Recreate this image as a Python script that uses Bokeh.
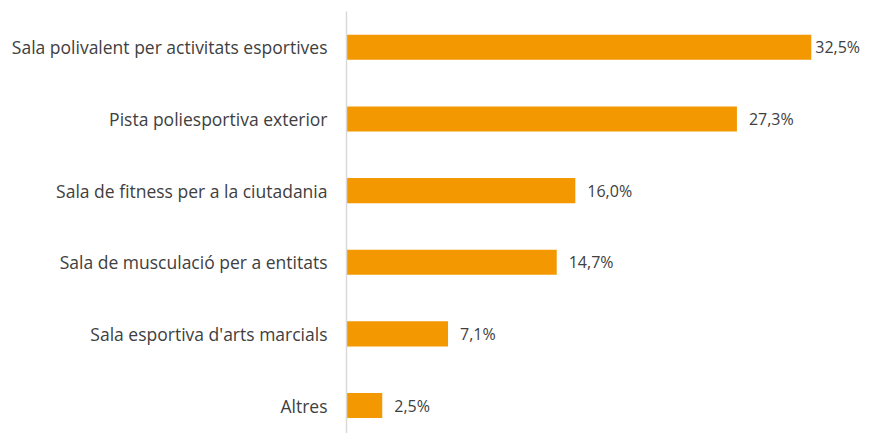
from bokeh.plotting import figure
from bokeh.models import ColumnDataSource, FixedTicker, Range1d, LabelSet
from bokeh.core.properties import value
from bokeh.embed import file_html
from bokeh.resources import INLINE

categories = [
    "Sala polivalent per activitats esportives",
    "Pista poliesportiva exterior",
    "Sala de fitness per a la ciutadania",
    "Sala de musculació per a entitats",
    "Sala esportiva d'arts marcials",
    "Altres",
]
values = [32.5, 27.3, 16.0, 14.7, 7.1, 2.5]
value_labels = ["32,5%", "27,3%", "16,0%", "14,7%", "7,1%", "2,5%"]

n = len(categories)
ypos = [n - 1 - i for i in range(n)]
vmax = max(values)
offsets = [4 if v == vmax else 12 for v in values]

src = ColumnDataSource(dict(y=ypos, v=values, lab=value_labels, off=offsets))

FONT = "Open Sans"
TXT = "#404040"

p = figure(width=868, height=433, output_backend="svg", toolbar_location=None,
           x_range=Range1d(0, 36.5), y_range=Range1d(-0.39, n - 1 + 0.5),
           min_border_left=346, min_border_right=0, min_border_top=11, min_border_bottom=0)
p.outline_line_color = None
p.xgrid.visible = False
p.ygrid.visible = False
p.xaxis.visible = False

p.hbar(y="y", right="v", left=0, height=0.35, source=src, color="#F39800", line_color=None)

ya = p.yaxis[0]
ya.ticker = FixedTicker(ticks=ypos)
ya.major_label_overrides = {y: c for y, c in zip(ypos, categories)}
ya.major_tick_line_color = None
ya.minor_tick_line_color = None
ya.axis_line_color = "#D9D9D9"
ya.axis_line_width = 1.5
ya.major_label_text_font = FONT
ya.major_label_text_font_size = "17.5px"
ya.major_label_text_color = TXT
ya.major_label_standoff = 13

labels = LabelSet(x="v", y="y", text="lab", source=src, x_offset="off",
                  text_baseline="middle", text_align="left",
                  text_font=value(FONT), text_font_size="16px", text_color=TXT)
p.add_layout(labels)

open("out.html", "w").write(file_html(p, INLINE))
